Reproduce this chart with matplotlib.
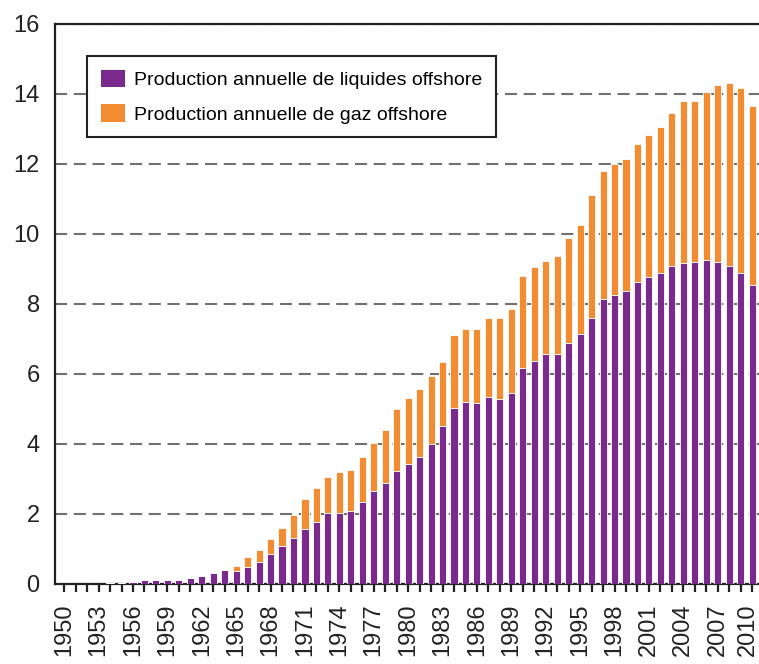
import matplotlib
matplotlib.use("Agg")
import matplotlib.pyplot as plt
import matplotlib.transforms as mtransforms
from matplotlib.ticker import MultipleLocator

plt.rcParams['font.family'] = ['Liberation Sans', 'DejaVu Sans']

years = list(range(1950, 2011))
liquides = [0, 0, 0, 0, 0.02, 0.04, 0.06, 0.12, 0.12, 0.12,
            0.12, 0.17, 0.24, 0.31, 0.39, 0.36, 0.48, 0.62, 0.87, 1.08,
            1.31, 1.57, 1.78, 2.02, 2.02, 2.10, 2.35, 2.67, 2.88, 3.24,
            3.43, 3.62, 4.00, 4.51, 5.02, 5.21, 5.16, 5.35, 5.28, 5.47,
            6.16, 6.38, 6.58, 6.58, 6.89, 7.15, 7.61, 8.14, 8.25, 8.38,
            8.62, 8.76, 8.89, 9.08, 9.16, 9.20, 9.27, 9.20, 9.08, 8.89,
            8.55]
gaz = [0, 0, 0, 0, 0, 0, 0, 0, 0, 0,
       0, 0, 0, 0, 0, 0.15, 0.28, 0.34, 0.42, 0.52,
       0.66, 0.87, 0.97, 1.05, 1.19, 1.17, 1.29, 1.37, 1.52, 1.76,
       1.89, 1.94, 1.94, 1.82, 2.09, 2.07, 2.12, 2.24, 2.33, 2.38,
       2.63, 2.67, 2.65, 2.79, 3.00, 3.12, 3.50, 3.67, 3.76, 3.75,
       3.94, 4.07, 4.18, 4.39, 4.63, 4.59, 4.79, 5.05, 5.24, 5.28,
       5.12]
label_liq = "Production annuelle de liquides offshore"
label_gaz = "Production annuelle de gaz offshore"
col_liq = "#7A2A8C"
col_gaz = "#F38B31"

fig = plt.figure(figsize=(7.59, 6.64), dpi=100)
ax = fig.add_axes([55/759, 80/664, 704/759, 560/664])

ax.bar(years, liquides, width=0.62, color=col_liq, edgecolor='white',
       linewidth=0.6, label=label_liq, zorder=3)
ax.bar(years, gaz, bottom=liquides, width=0.62, color=col_gaz,
       edgecolor='white', linewidth=0.6, label=label_gaz, zorder=3)

ax.set_xlim(1949.2, 2010.6)
ax.set_ylim(0, 16)
ax.yaxis.set_major_locator(MultipleLocator(2))
ax.set_xticks(years)
ax.set_xticklabels([str(y) if (y - 1950) % 3 == 0 else "" for y in years],
                   rotation=90)

ax.grid(axis='y', color='#707070', linewidth=1.5,
        linestyle=(0, (5.8, 3.2)), zorder=1)
ax.set_axisbelow(True)

for s in ['left', 'bottom', 'top']:
    ax.spines[s].set_linewidth(1.6)
    ax.spines[s].set_color('#222222')
ax.spines['right'].set_visible(False)

ax.tick_params(axis='y', length=0, pad=11, labelsize=17, colors='#222222')
ax.tick_params(axis='x', length=6, width=1.6, pad=8, labelsize=17,
               colors='#222222', direction='out')

# keep the last (2010) label inside the figure edge
last = ax.get_xticklabels()[-1]
last.set_transform(last.get_transform() +
                   mtransforms.ScaledTranslation(-3/72, 0, fig.dpi_scale_trans))

leg = ax.legend(loc='upper left', bbox_to_anchor=(0.0455, 0.943),
                borderaxespad=0, fontsize=14, fancybox=False,
                edgecolor='#222222', framealpha=1, handlelength=1.25,
                handleheight=1.0, handletextpad=0.45, labelspacing=0.8,
                borderpad=0.7)
leg.get_frame().set_linewidth(1.5)
for h in leg.legend_handles:
    h.set_edgecolor('none')

fig.savefig("out.png", dpi=100)
